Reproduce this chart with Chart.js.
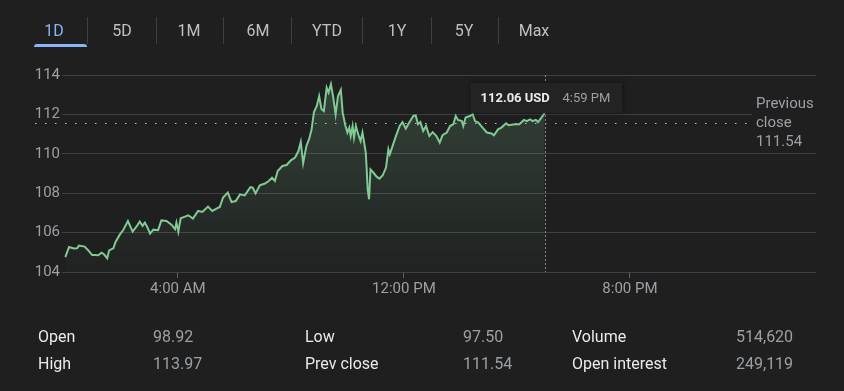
<!DOCTYPE html>
<html>
<head>
<meta charset="utf-8">
<script src="https://cdn.jsdelivr.net/npm/chart.js@4"></script>
<style>
  html, body { margin: 0; padding: 0; background: #1f1f1f; }
  body { width: 844px; height: 391px; position: relative; overflow: hidden; font-family: Roboto, "Noto Sans", sans-serif; }
  #priceChart { position: absolute; left: 0; top: 0; }
  .tab { position: absolute; top: 20px; height: 22px; line-height: 22px; font-size: 16px; color: #bdc1c6; transform: translateX(-50%); white-space: nowrap; }
  .tab.active { color: #8ab4f8; }
  .sep { position: absolute; top: 17px; width: 1px; height: 27px; background: #3c4043; }
  .underline { position: absolute; left: 34px; top: 44px; width: 53px; height: 3px; background: #8ab4f8; border-radius: 3px 3px 0 0; }
  .stat { position: absolute; height: 20px; line-height: 20px; font-size: 16px; white-space: nowrap; }
  .stat.label { color: #e8eaed; }
  .stat.value { color: #9aa0a6; }
</style>
</head>
<body>
<canvas id="priceChart" width="844" height="391"></canvas>
<div id="tabs"></div>
<div id="stats"></div>
<script>
// range tabs
const tabLabels = ['1D', '5D', '1M', '6M', 'YTD', '1Y', '5Y', 'Max'];

// intraday series: minutes after midnight, price in USD
const minutes = [
  1, 9, 19, 26, 30, 42, 49, 58, 64, 71, 78, 83, 90, 94, 103, 108, 117, 124, 134, 144,
  154, 159, 165, 170, 175, 181, 188, 198, 205, 216, 227, 234, 237, 241, 246, 255, 262, 272, 283, 292,
  304, 313, 322, 329, 336, 346, 354, 363, 372, 382, 394, 399, 405, 414, 425, 433, 440, 446, 452, 462,
  471, 480, 489, 496, 501, 506, 513, 519, 524, 529, 535, 540, 545, 550, 556, 560, 565, 570, 575, 580,
  586, 590, 595, 600, 604, 607, 611, 614, 618, 623, 628, 632, 635, 639, 641, 643, 646, 649, 655, 662,
  668, 675, 682, 687, 690, 696, 703, 711, 717, 724, 731, 740, 745, 750, 755, 761, 767, 774, 781, 789,
  796, 802, 811, 818, 825, 830, 835, 843, 846, 851, 860, 866, 871, 878, 887, 896, 906, 911, 920, 927,
  937, 942, 956, 965, 975, 981, 988, 993, 1000, 1005, 1012, 1019
];
const prices = [
  104.76, 105.27, 105.19, 105.20, 105.34, 105.29, 105.12, 104.86, 104.86, 104.85, 104.98, 104.90, 104.70, 105.10, 105.20, 105.54, 105.91, 106.13, 106.59, 106.05,
  106.37, 106.56, 106.34, 106.51, 106.29, 105.95, 106.15, 106.12, 106.62, 106.59, 106.39, 106.17, 106.51, 106.05, 106.73, 106.81, 106.88, 106.71, 107.10, 107.05,
  107.32, 107.10, 107.22, 107.30, 107.78, 108.03, 107.55, 107.60, 107.94, 107.89, 108.31, 108.28, 107.99, 108.40, 108.49, 108.62, 108.79, 108.62, 109.13, 109.38,
  109.43, 109.67, 109.81, 110.14, 110.60, 109.52, 110.40, 110.77, 111.24, 112.12, 112.43, 112.93, 112.26, 112.17, 113.36, 113.11, 113.53, 112.85, 112.00, 112.93,
  113.24, 112.09, 111.50, 111.08, 111.33, 110.90, 111.41, 110.82, 111.41, 110.99, 110.65, 111.08, 110.65, 110.06, 109.21, 108.20, 107.69, 109.21, 109.05, 108.84,
  108.74, 108.91, 109.30, 110.23, 109.97, 110.40, 110.90, 111.41, 111.61, 111.28, 111.58, 111.92, 111.95, 111.50, 111.61, 111.16, 111.41, 110.90, 111.10, 110.90,
  110.57, 110.94, 111.08, 111.41, 111.50, 111.92, 111.72, 111.66, 111.41, 111.84, 111.92, 112.01, 111.66, 111.58, 111.33, 111.08, 111.03, 110.94, 111.24, 111.33,
  111.55, 111.45, 111.50, 111.50, 111.72, 111.66, 111.75, 111.66, 111.72, 111.61, 111.84, 112.06
];

const prevClose = 111.54;
const lastPrice = '112.06 USD';
const lastTime = '4:59 PM';

const xTickValues = [240, 720, 1200];
const xTickLabels = ['4:00 AM', '12:00 PM', '8:00 PM'];

// key stats under the chart
const statLabels = [['Open', 'High'], ['Low', 'Prev close'], ['Volume', 'Open interest']];
const statValues = [['98.92', '113.97'], ['97.50', '111.54'], ['514,620', '249,119']];

// --- tabs
const tabCenters = [54, 122, 189, 258, 327, 397, 464, 534];
const sepX = [87, 156, 223, 291, 362, 431, 498];
const tabsEl = document.getElementById('tabs');
tabLabels.forEach((t, i) => {
    const d = document.createElement('div');
    d.className = 'tab' + (i === 0 ? ' active' : '');
    d.style.left = tabCenters[i] + 'px';
    d.textContent = t;
    tabsEl.appendChild(d);
});
sepX.forEach(x => {
    const s = document.createElement('div');
    s.className = 'sep';
    s.style.left = x + 'px';
    tabsEl.appendChild(s);
});
const ul = document.createElement('div');
ul.className = 'underline';
tabsEl.appendChild(ul);

// --- stats
const labelX = [38, 305, 572];
const valueX = [153, 463, 736];
const rowY = [327, 354];
const statsEl = document.getElementById('stats');
statLabels.forEach((col, c) => {
    col.forEach((lab, r) => {
        const a = document.createElement('div');
        a.className = 'stat label';
        a.style.left = labelX[c] + 'px';
        a.style.top = rowY[r] + 'px';
        a.textContent = lab;
        statsEl.appendChild(a);
        const b = document.createElement('div');
        b.className = 'stat value';
        b.style.left = valueX[c] + 'px';
        b.style.top = rowY[r] + 'px';
        b.textContent = statValues[c][r];
        statsEl.appendChild(b);
    });
});

// --- overlay bits: previous close line, hover line, price box, label
const overlay = {
    id: 'overlay',
    beforeDatasetsDraw(chart) {
        const { ctx, scales: { y } } = chart;
        const py = Math.round(y.getPixelForValue(prevClose)) + 0.5;
        ctx.save();
        ctx.strokeStyle = '#bdc1c6';
        ctx.lineWidth = 1;
        ctx.setLineDash([1.5, 8.5]);
        ctx.beginPath();
        ctx.moveTo(35, py);
        ctx.lineTo(750, py);
        ctx.stroke();
        ctx.restore();
    },
    afterDatasetsDraw(chart) {
        const { ctx, chartArea, scales: { x, y } } = chart;
        const vx = Math.round(x.getPixelForValue(minutes[minutes.length - 1])) + 0.5;
        ctx.save();
        // hover line
        ctx.strokeStyle = '#80868b';
        ctx.lineWidth = 1;
        ctx.setLineDash([2, 2]);
        ctx.beginPath();
        ctx.moveTo(vx, chartArea.top);
        ctx.lineTo(vx, chartArea.bottom);
        ctx.stroke();
        ctx.setLineDash([]);

        // price box
        const bx = vx - 75, by = chartArea.top + 8, bw = 152, bh = 30;
        ctx.shadowColor = 'rgba(0,0,0,0.5)';
        ctx.shadowBlur = 4;
        ctx.fillStyle = '#232323';
        ctx.fillRect(bx, by, bw, bh);
        ctx.shadowBlur = 0;
        ctx.textBaseline = 'middle';
        ctx.textAlign = 'left';
        ctx.font = 'bold 13px Roboto, "Noto Sans", sans-serif';
        ctx.fillStyle = '#e8eaed';
        ctx.fillText(lastPrice, bx + 10, by + 16);
        ctx.font = '13px Roboto, "Noto Sans", sans-serif';
        ctx.fillStyle = '#9aa0a6';
        ctx.fillText(lastTime, bx + 92, by + 16);

        // previous close label
        const py = y.getPixelForValue(prevClose);
        const lx = chartArea.right - 60;
        ctx.fillStyle = '#1f1f1f';
        ctx.fillRect(lx - 4, py - 29, 90, 56);
        ctx.font = '15px Roboto, "Noto Sans", sans-serif';
        ctx.fillStyle = '#9aa0a6';
        ctx.fillText('Previous', lx, py - 19);
        ctx.fillText('close', lx, py);
        ctx.fillText(prevClose.toFixed(2), lx, py + 19);
        ctx.restore();
    }
};

const canvas = document.getElementById('priceChart');
new Chart(canvas, {
    type: 'line',
    data: {
        datasets: [{
            data: minutes.map((m, i) => ({ x: m, y: prices[i] })),
            borderColor: '#81c995',
            borderWidth: 2,
            pointRadius: 0,
            tension: 0,
            fill: 'start',
            backgroundColor: (context) => {
                const { ctx, chartArea } = context.chart;
                if (!chartArea) return 'rgba(129,201,149,0.1)';
                const g = ctx.createLinearGradient(0, chartArea.top, 0, chartArea.bottom);
                g.addColorStop(0, 'rgba(129,201,149,0.22)');
                g.addColorStop(1, 'rgba(129,201,149,0.02)');
                return g;
            }
        }]
    },
    options: {
        responsive: false,
        animation: false,
        devicePixelRatio: 1,
        layout: { padding: { top: 75, right: 28, bottom: 89, left: 0 } },
        plugins: {
            legend: { display: false },
            tooltip: { enabled: false }
        },
        scales: {
            x: {
                type: 'linear',
                min: -6,
                max: 1595,
                afterBuildTicks: (scale) => {
                    scale.ticks = xTickValues.map(v => ({ value: v }));
                },
                afterFit: (scale) => { scale.height = 30; },
                ticks: {
                    color: '#9aa0a6',
                    font: { family: 'Roboto', size: 15 },
                    padding: 2,
                    maxRotation: 0,
                    callback: (value) => xTickLabels[xTickValues.indexOf(value)]
                },
                grid: {
                    drawOnChartArea: false,
                    drawTicks: true,
                    tickLength: 6,
                    color: '#5f6368'
                },
                border: { display: false }
            },
            y: {
                min: 104,
                max: 114,
                afterFit: (scale) => { scale.width = 62; },
                ticks: {
                    stepSize: 2,
                    color: '#9aa0a6',
                    font: { family: 'Roboto', size: 15 },
                    padding: 2
                },
                grid: {
                    color: '#3c4043',
                    lineWidth: 1,
                    drawTicks: false
                },
                border: { display: false }
            }
        }
    },
    plugins: [overlay]
});
</script>
</body>
</html>
